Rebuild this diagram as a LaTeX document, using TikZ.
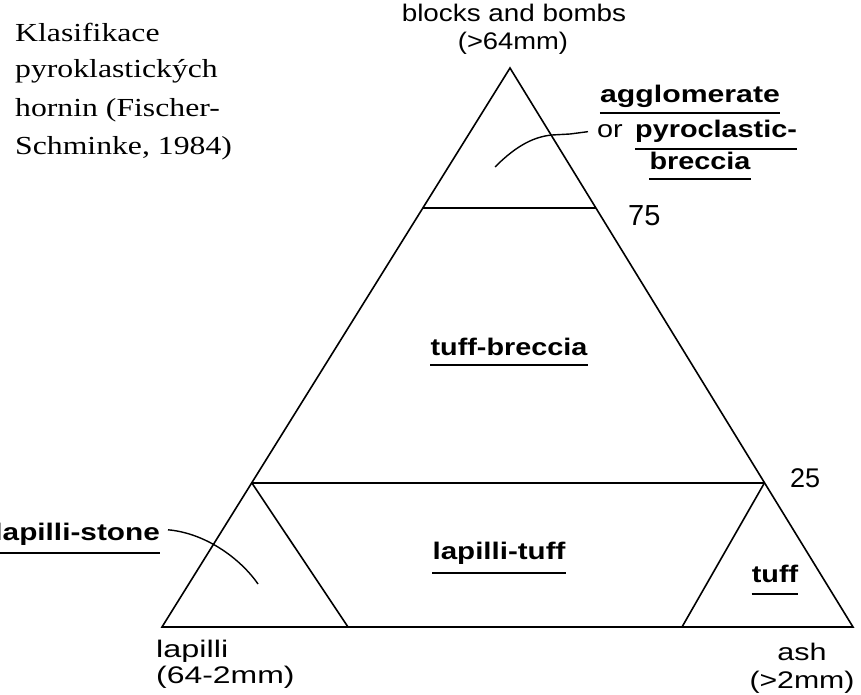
\documentclass[tikz,border=0pt]{standalone}
\usepackage{fontspec}
\setmainfont{Liberation Serif}
\newfontfamily\hv{Liberation Sans}
\usepackage{graphicx}
\usetikzlibrary{calc}
\newcommand{\hx}[2][1.2]{\scalebox{#1}[1]{#2}}
\begin{document}
\begin{tikzpicture}[x=1pt,y=-1pt,
  edge/.style={line width=1.6pt, line join=miter},
  ul/.style={line width=1.6pt},
  lead/.style={line width=1.4pt},
  lbl/.style={inner sep=0pt, font=\hv\fontsize{24}{28}\selectfont},
  blbl/.style={inner sep=0pt, font=\hv\bfseries\fontsize{24}{28}\selectfont},
  tm/.style={inner sep=0pt, anchor=base west, font=\fontsize{26}{30}\selectfont},
]
\useasboundingbox (0,0) rectangle (861,695);

% triangle
\coordinate (A) at (510,68);
\coordinate (L) at (162,627);
\coordinate (R) at (853,627);
\coordinate (l75) at ($(A)!0.2504!(L)$);
\coordinate (r75) at ($(A)!0.2504!(R)$);
\coordinate (l25) at ($(A)!0.742!(L)$);
\coordinate (r25) at ($(A)!0.742!(R)$);
\coordinate (bl) at (348,627);
\coordinate (bri) at (682,627);

\draw[edge] (A) -- (L) -- (R) -- cycle;
\draw[edge] (l75) -- (r75);
\draw[edge] (l25) -- (r25);
\draw[edge] (l25) -- (bl);
\draw[edge] (r25) -- (bri);

% title
\node[tm] (t1) at (15,42) {\hx[1.22]{Klasifikace}};
\node[tm] (t2) at (15,78) {\hx[1.22]{pyroklastických}};
\node[tm] (t3) at (15,117) {\hx[1.22]{hornin (Fischer-}};
\node[tm] (t4) at (15,155) {\hx[1.22]{Schminke, 1984)}};

% corner labels
\node[lbl, anchor=base] (bb) at (514,22) {\hx[1.16]{blocks and bombs}};
\node[lbl, anchor=base] (bb2) at (513,50) {\hx[1.14]{(>64mm)}};
\node[lbl, anchor=base west] (lap) at (156,657) {\hx[1.35]{lapilli}};
\node[lbl, anchor=base west] (lap2) at (156,683) {\hx[1.33]{(64-2mm)}};
\node[lbl, anchor=base] (ash) at (802,660) {\hx[1.27]{ash}};
\node[lbl, anchor=base] (ash2) at (802,688) {\hx[1.26]{(>2mm)}};

% numbers
\node[lbl, anchor=base west] (n75) at (628,225) {\fontsize{29}{30}\selectfont 75};
\node[lbl, anchor=base west] (n25) at (790,487) {\fontsize{27}{30}\selectfont 25};

% field names
\node[blbl, anchor=base] (ag) at (690,103) {\hx[1.26]{agglomerate}};
\node[lbl, anchor=base east] (orn) at (623,138) {\hx{or}};
\node[blbl, anchor=base west] (py) at (635,138) {\hx{pyroclastic-}};
\node[blbl, anchor=base] (brc) at (700,170) {\hx{breccia}};
\node[blbl, anchor=base] (tb) at (509,355) {\hx{tuff-breccia}};
\node[blbl, anchor=base] (lt) at (499,559) {\hx[1.23]{lapilli-tuff}};
\node[blbl, anchor=base east] (ls) at (160,540) {\hx[1.24]{lapilli-stone}};
\node[blbl, anchor=base] (tf) at (775,582) {\hx{tuff}};

% underlines
\draw[ul] ([yshift=-10pt]ag.base west) -- ([yshift=-10pt]ag.base east);
\draw[ul] ([yshift=-11pt]py.base west) -- ([yshift=-11pt]py.base east);
\draw[ul] ([yshift=-9pt]brc.base west) -- ([yshift=-9pt]brc.base east);
\draw[ul] ([yshift=-10pt]tb.base west) -- ([yshift=-10pt]tb.base east);
\draw[ul] ([yshift=-14pt]lt.base west) -- ([yshift=-14pt]lt.base east);
\draw[ul] ([yshift=-13pt]ls.base west) -- ([yshift=-13pt]ls.base east);
\draw[ul] ([yshift=-12pt]tf.base west) -- ([yshift=-12pt]tf.base east);

% leaders
\coordinate (ag0) at (495,167);
\draw[lead] (ag0) .. controls (512,150) and (530,137) .. (552,135) -- (570,134) -- ([xshift=-9pt]orn.west);
\coordinate (ls0) at (258,584);
\draw[lead] ([xshift=8pt,yshift=4pt]ls.east) .. controls (205,533) and (240,558) .. (ls0);
\end{tikzpicture}
\end{document}
